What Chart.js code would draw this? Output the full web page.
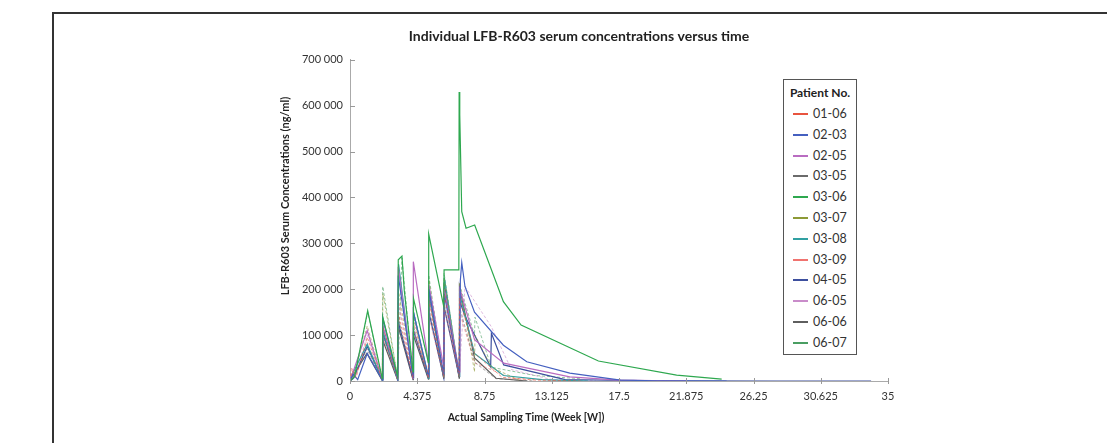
<!DOCTYPE html>
<html>
<head>
<meta charset="utf-8">
<script src="https://cdn.jsdelivr.net/npm/chart.js@4.4.1/dist/chart.umd.min.js"></script>
<style>
  html, body { margin: 0; padding: 0; background: #fff; }
  body { width: 1107px; height: 443px; position: relative; overflow: hidden; font-family: Lato, sans-serif; }
  #frame { position: absolute; left: 52px; top: 12px; width: 1100px; height: 500px; border-left: 2px solid #333; border-top: 2px solid #333; }
  #wrap { position: absolute; left: 0; top: 0; width: 1107px; height: 443px; }
  #legend { position: absolute; left: 783px; top: 79px; width: 72px; height: 274px; border: 1.5px solid #555; background: #fff; box-sizing: content-box; }
  #legend .head { position: absolute; left: 0; width: 72px; top: 5px; text-align: center; font: bold 12px Lato, sans-serif; color: #222; }
  #legend .item { position: absolute; left: 9px; height: 16px; font: 12.5px Lato, sans-serif; color: #333; line-height: 16px; }
  #legend .item span.line { position: absolute; left: 0; top: 7px; width: 15px; height: 2px; }
  #legend .item span.txt { position: absolute; left: 20px; top: 0; white-space: nowrap; }
</style>
</head>
<body>
<div id="frame"></div>
<div id="wrap"><canvas id="pkChart" width="1107" height="443"></canvas></div>
<div id="legend"></div>
<script>
// patient ids
const patients = ['01-06', '02-03', '02-05', '03-05', '03-06', '03-07', '03-08', '03-09', '04-05', '06-05', '06-06', '06-07'];

// sampling times (weeks) and serum concentrations (ng/ml), one pair per patient
const t0106 = [0, 0.15, 0.4, 1.12, 2.1, 2.13, 3.1, 3.13, 4.1, 4.13, 5.1, 5.13, 6.1, 6.13, 7.1, 7.13, 8.1, 9.9, 12.0, 15.0];
const c0106 = [0, 22000, 8000, 95000, 3000, 120000, 4000, 150000, 5000, 130000, 6000, 175000, 8000, 190000, 10000, 180000, 60000, 8000, 2000, 0];

const t0203 = [0, 0.2, 0.5, 1.12, 2.1, 2.13, 3.1, 3.14, 4.1, 4.13, 5.1, 5.13, 6.1, 6.13, 7.1, 7.18, 7.27, 7.48, 8.1, 9.98, 11.5, 14.3, 17.6, 20.0, 24.5];
const c0203 = [0, 15000, 3000, 60000, 2000, 137000, 5000, 230000, 8000, 150000, 10000, 200000, 12000, 190000, 15000, 220000, 258000, 206000, 150000, 78000, 42000, 17000, 2000, 500, 0];

const t0205 = [0, 0.2, 1.12, 2.1, 2.13, 3.1, 3.14, 4.1, 4.12, 5.1, 5.13, 6.1, 6.13, 7.1, 7.15, 8.1, 10.0, 14.3, 17.5, 21.9];
const c0205 = [0, 20000, 110000, 3000, 120000, 5000, 249000, 6000, 260000, 40000, 210000, 30000, 200000, 20000, 200000, 90000, 39000, 9000, 2000, 0];

const t0305 = [0, 0.3, 1.1, 2.1, 2.13, 3.1, 3.13, 4.1, 4.13, 5.1, 5.13, 6.1, 6.13, 7.1, 7.13, 8.13, 9.5, 12.0];
const c0305 = [0, 8000, 70000, 2000, 100000, 3000, 140000, 4000, 120000, 5000, 160000, 6000, 170000, 8000, 160000, 40000, 5000, 0];

const t0306 = [0, 0.3, 1.15, 2.1, 2.13, 3.1, 3.14, 3.38, 3.53, 4.1, 4.13, 5.1, 5.12, 6.1, 6.12, 7.08, 7.1, 7.14, 7.27, 7.55, 8.11, 9.98, 11.13, 16.16, 21.25, 24.18];
const c0306 = [0, 10000, 153000, 5000, 140000, 10000, 264000, 272000, 198000, 20000, 180000, 40000, 320000, 162000, 242000, 242000, 630000, 580000, 369000, 333000, 340000, 173000, 122000, 43600, 13000, 4000];

const t0307 = [0, 0.25, 1.12, 2.1, 2.14, 3.1, 3.14, 4.1, 4.13, 5.1, 5.13, 6.1, 6.13, 7.1, 7.12, 8.1, 8.13, 9.2, 11.0];
const c0307 = [0, 12000, 120000, 5000, 190000, 8000, 200000, 10000, 140000, 8000, 220000, 10000, 225000, 15000, 215000, 20000, 100000, 30000, 2000];

const t0308 = [0, 0.2, 1.12, 2.1, 2.13, 3.1, 3.16, 4.1, 4.13, 5.1, 5.13, 6.1, 6.14, 7.1, 7.13, 8.1, 9.98, 12.5, 15.5];
const c0308 = [0, 18000, 80000, 2000, 110000, 4000, 255000, 6000, 150000, 6000, 200000, 8000, 225000, 10000, 190000, 60000, 12000, 3000, 0];

const t0309 = [0, 0.1, 0.35, 1.1, 2.1, 2.13, 3.1, 3.13, 4.1, 4.13, 5.1, 5.13, 6.1, 6.13, 7.1, 7.13, 8.1, 10.5, 14.0];
const c0309 = [0, 30000, 10000, 85000, 4000, 95000, 6000, 180000, 6000, 110000, 8000, 140000, 10000, 160000, 12000, 150000, 40000, 6000, 0];

const t0405 = [0, 0.2, 1.12, 2.1, 2.13, 3.1, 3.13, 4.1, 4.13, 5.1, 5.13, 6.1, 6.13, 7.1, 7.13, 7.5, 9.15, 9.2, 10.0, 14.0, 20.0, 27.8, 33.9];
const c0405 = [0, 5000, 75000, 3000, 105000, 4000, 130000, 5000, 110000, 6000, 150000, 7000, 160000, 10000, 175000, 140000, 31000, 104000, 35000, 3000, 500, 0, 0];

const t0605 = [0, 0.3, 1.12, 2.1, 2.13, 3.1, 3.13, 4.1, 4.13, 5.1, 5.13, 6.1, 6.13, 7.1, 7.48, 9.2, 10.5, 13.0, 16.0];
const c0605 = [0, 6000, 100000, 3000, 130000, 5000, 170000, 6000, 140000, 7000, 190000, 8000, 200000, 12000, 206000, 118000, 25000, 4000, 0];

const t0606 = [0, 0.2, 1.1, 2.1, 2.12, 3.1, 3.13, 4.1, 4.12, 5.1, 5.12, 6.1, 6.12, 7.1, 7.12, 8.1, 9.5, 11.5];
const c0606 = [0, 12000, 60000, 1000, 90000, 2000, 120000, 3000, 100000, 4000, 190000, 5000, 215000, 6000, 205000, 50000, 6000, 0];

const t0607 = [0, 0.3, 1.15, 2.1, 2.13, 3.1, 3.38, 4.1, 4.13, 5.1, 5.12, 6.1, 6.12, 7.1, 7.13, 8.1, 8.13, 9.2, 12.0, 15.0];
const c0607 = [0, 9000, 150000, 4000, 206000, 6000, 268000, 8000, 150000, 10000, 231000, 12000, 235000, 14000, 210000, 100000, 139000, 30000, 12000, 5000];

// axis ticks
const xTicks = [0, 4.375, 8.75, 13.125, 17.5, 21.875, 26.25, 30.625, 35];
const yTicks = [0, 100000, 200000, 300000, 400000, 500000, 600000, 700000];

const times = [t0106, t0203, t0205, t0305, t0306, t0307, t0308, t0309, t0405, t0605, t0606, t0607];
const concs = [c0106, c0203, c0205, c0305, c0306, c0307, c0308, c0309, c0405, c0605, c0606, c0607];

const colors = ['#e8543f', '#4560c0', '#b96cc1', '#6b6b6b', '#2ea84f', '#8d9a36', '#31a0a2', '#f0736f', '#3d4f9e', '#c98cca', '#5e5e5e', '#4a9e62'];
const dashed = [true, false, false, true, false, true, false, true, false, true, false, true];

function withAlpha(hex, a) {
    const n = parseInt(hex.slice(1), 16);
    return `rgba(${(n >> 16) & 255},${(n >> 8) & 255},${n & 255},${a})`;
}

const datasets = patients.map((p, i) => ({
    label: p,
    data: times[i].map((t, k) => ({ x: t, y: concs[i][k] })),
    borderColor: dashed[i] ? withAlpha(colors[i], 0.6) : colors[i],
    borderWidth: dashed[i] ? 1 : 1.2,
    borderDash: dashed[i] ? [3, 2] : [],
    pointRadius: 0,
    showLine: true,
    fill: false,
    tension: 0
}));

// big green spike drawn on top
datasets[4].order = -1;

function fmtThousands(v) {
    return String(v).replace(/\B(?=(\d{3})+(?!\d))/g, ' ');
}

// inward tick marks + axis titles (placed off-centre as in the source)
const axisExtras = {
    id: 'axisExtras',
    afterDraw(chart) {
        const { ctx, chartArea, scales } = chart;
        ctx.save();
        ctx.strokeStyle = '#999';
        ctx.lineWidth = 1;
        ctx.beginPath();
        yTicks.forEach(v => {
            const y = Math.round(scales.y.getPixelForValue(v)) + 0.5;
            ctx.moveTo(chartArea.left, y);
            ctx.lineTo(chartArea.left + 5, y);
        });
        xTicks.forEach(v => {
            const x = Math.round(scales.x.getPixelForValue(v)) + 0.5;
            ctx.moveTo(x, chartArea.bottom - 3);
            ctx.lineTo(x, chartArea.bottom + 3);
        });
        ctx.stroke();

        ctx.fillStyle = '#222';
        ctx.textAlign = 'center';
        ctx.textBaseline = 'middle';
        ctx.font = 'bold 10.5px Lato, sans-serif';
        ctx.fillText('Actual Sampling Time (Week [W])', 526, 418);

        ctx.translate(285, 196);
        ctx.rotate(-Math.PI / 2);
        ctx.font = 'bold 11px Lato, sans-serif';
        ctx.fillText('LFB-R603 Serum Concentrations (ng/ml)', 0, 0);
        ctx.restore();
    }
};

const ctx = document.getElementById('pkChart').getContext('2d');
const pkChart = new Chart(ctx, {
    type: 'scatter',
    data: { datasets: datasets },
    options: {
        responsive: false,
        animation: false,
        layout: { padding: { left: 270, right: 219, top: 0, bottom: 15 } },
        plugins: {
            legend: { display: false },
            tooltip: { enabled: false },
            title: {
                display: true,
                text: 'Individual LFB-R603 serum concentrations versus time',
                color: '#222',
                font: { family: 'Lato', size: 14, weight: 'bold' },
                padding: { top: 28, bottom: 15 }
            }
        },
        scales: {
            x: {
                type: 'linear',
                min: 0,
                max: 35,
                afterBuildTicks: s => { s.ticks = xTicks.map(v => ({ value: v })); },
                ticks: {
                    color: '#333',
                    font: { family: 'Lato', size: 11 },
                    padding: 9,
                    maxRotation: 0,
                    callback: v => String(v)
                },
                grid: { drawOnChartArea: false, drawTicks: false },
                border: { color: '#aaa', width: 1 },
                afterFit: s => { s.height = 47; }
            },
            y: {
                type: 'linear',
                min: 0,
                max: 700000,
                afterBuildTicks: s => { s.ticks = yTicks.map(v => ({ value: v })); },
                ticks: {
                    color: '#333',
                    font: { family: 'Lato', size: 11 },
                    padding: 7,
                    callback: v => fmtThousands(v)
                },
                grid: { drawOnChartArea: false, drawTicks: false },
                border: { color: '#aaa', width: 1 },
                afterFit: s => { s.width = 80; }
            }
        }
    },
    plugins: [axisExtras]
});

// legend box
const legend = document.getElementById('legend');
const head = document.createElement('div');
head.className = 'head';
head.textContent = 'Patient No.';
legend.appendChild(head);
datasets.forEach((d, i) => {
    const item = document.createElement('div');
    item.className = 'item';
    item.style.top = (26 + i * 20.8) + 'px';
    item.innerHTML = `<span class="line" style="background:${colors[i]}"></span><span class="txt">${d.label}</span>`;
    legend.appendChild(item);
});
</script>
</body>
</html>
